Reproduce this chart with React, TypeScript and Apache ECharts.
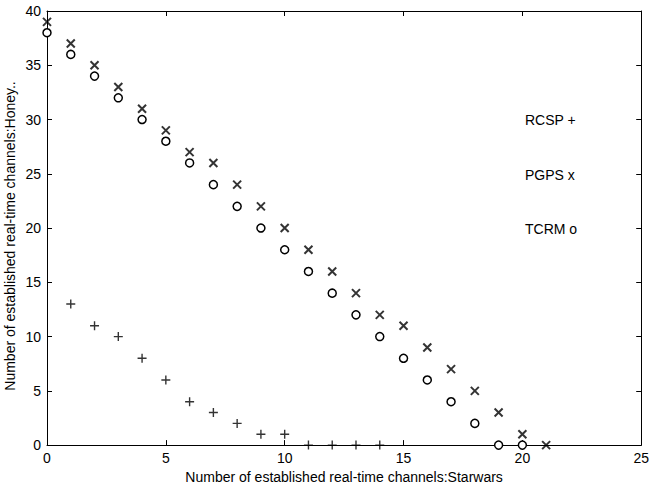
import React, { useEffect, useRef } from "react";
import * as echarts from "echarts";

const tcrmX = [0, 1, 2, 3, 4, 5, 6, 7, 8, 9, 10, 11, 12, 13, 14, 15, 16, 17, 18, 19, 20];
const tcrmY = [38, 36, 34, 32, 30, 28, 26, 24, 22, 20, 18, 16, 14, 12, 10, 8, 6, 4, 2, 0, 0];
const pgpsX = [0, 1, 2, 3, 4, 5, 6, 7, 8, 9, 10, 11, 12, 13, 14, 15, 16, 17, 18, 19, 20, 21];
const pgpsY = [39, 37, 35, 33, 31, 29, 27, 26, 24, 22, 20, 18, 16, 14, 12, 11, 9, 7, 5, 3, 1, 0];
const rcspX = [1, 2, 3, 4, 5, 6, 7, 8, 9, 10, 11, 12, 13, 14];
const rcspY = [13, 11, 10, 8, 6, 4, 3, 2, 1, 1, 0, 0, 0, 0];
const legendLabels = ["RCSP +", "PGPS x", "TCRM o"];
const legendYValues = [30, 25, 20];

const FONT = "'Liberation Sans', Arial, sans-serif";

export default function App() {
  const ref = useRef<HTMLDivElement>(null);
  useEffect(() => {
    if (!ref.current) return;
    const chart = echarts.init(ref.current, undefined, { renderer: "svg" });
    const grid = { left: 47, right: 9, top: 11, bottom: 42 };
    const axisCommon = {
      type: "value" as const,
      interval: 5,
      axisLine: { show: true, onZero: false, lineStyle: { color: "#000", width: 1 } },
      axisTick: { show: true, inside: true, length: 5, lineStyle: { color: "#000" } },
      splitLine: { show: false },
    };
    const pair = (arrX: number[], arrY: number[]) => arrX.map((x, i) => [x, arrY[i]]);
    const plotH = 489 - grid.top - grid.bottom;
    const yPix = (v: number) => grid.top + plotH * (1 - v / 40);
    chart.setOption({
      animation: false,
      grid,
      xAxis: [
        {
          ...axisCommon,
          min: 0,
          max: 25,
          position: "bottom",
          axisLabel: { color: "#000", fontSize: 14, fontFamily: FONT, margin: 6 },
          name: "Number of established real-time channels:Starwars",
          nameLocation: "middle",
          nameGap: 24,
          nameTextStyle: { color: "#000", fontSize: 14, fontFamily: FONT },
        },
        { ...axisCommon, min: 0, max: 25, position: "top", axisLabel: { show: false } },
      ],
      yAxis: [
        {
          ...axisCommon,
          min: 0,
          max: 40,
          position: "left",
          axisLabel: { color: "#000", fontSize: 14, fontFamily: FONT, margin: 6 },
        },
        { ...axisCommon, min: 0, max: 40, position: "right", axisLabel: { show: false } },
      ],
      graphic: [
        {
          type: "text",
          x: 10,
          y: 236,
          rotation: Math.PI / 2,
          style: {
            text: "Number of established real-time channels:Honey..",
            fill: "#000",
            font: `14px ${FONT}`,
            align: "center",
            verticalAlign: "middle",
          },
        },
        ...legendLabels.map((t, i) => ({
          type: "text",
          x: 525,
          y: yPix(legendYValues[i]),
          style: {
            text: t,
            fill: "#000",
            font: `14px ${FONT}`,
            align: "left",
            verticalAlign: "middle",
          },
        })),
      ],
      series: [
        {
          type: "scatter",
          name: "TCRM",
          data: pair(tcrmX, tcrmY),
          symbol: "circle",
          symbolSize: 8,
          itemStyle: { color: "#fff", borderColor: "#000", borderWidth: 1.5, opacity: 1 },
        },
        {
          type: "scatter",
          name: "PGPS",
          data: pair(pgpsX, pgpsY),
          symbol: "path://M0,0L10,10M10,0L0,10",
          symbolSize: 8,
          itemStyle: { color: "none", borderColor: "#000", borderWidth: 2 },
        },
        {
          type: "scatter",
          name: "RCSP",
          data: pair(rcspX, rcspY),
          symbol: "path://M5,0L5,10M0,5L10,5",
          symbolSize: 9,
          itemStyle: { color: "none", borderColor: "#000", borderWidth: 1.4 },
        },
      ],
    });
    return () => chart.dispose();
  }, []);
  return (
    <div
      ref={ref}
      style={{ position: "fixed", left: 0, top: 0, width: 652, height: 489, background: "#fff" }}
    />
  );
}
